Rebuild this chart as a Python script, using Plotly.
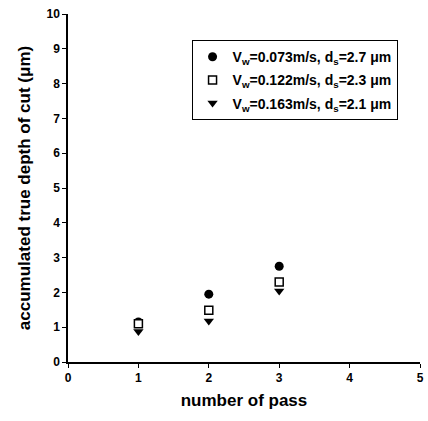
import plotly.graph_objects as go

passes = [1, 2, 3]
depth_a = [1.15, 1.95, 2.75]   # Vw=0.073 m/s
depth_b = [1.10, 1.49, 2.30]   # Vw=0.122 m/s
depth_c = [0.88, 1.18, 2.04]   # Vw=0.163 m/s
names = [
    "V<sub>w</sub>=0.073m/s, d<sub>s</sub>=2.7 μm",
    "V<sub>w</sub>=0.122m/s, d<sub>s</sub>=2.3 μm",
    "V<sub>w</sub>=0.163m/s, d<sub>s</sub>=2.1 μm",
]
x_ticks = [0, 1, 2, 3, 4, 5]
y_ticks = list(range(0, 11))

font_family = "Liberation Sans, Arial, sans-serif"

fig = go.Figure()
fig.add_trace(go.Scatter(x=passes, y=depth_a, mode="markers", name=names[0], legendgroup="a", legendrank=1,
                         marker=dict(symbol="circle", size=9, color="black")))
fig.add_trace(go.Scatter(x=passes, y=depth_c, mode="markers", name=names[2], legendgroup="c", legendrank=3,
                         marker=dict(symbol="triangle-down", size=9, color="black")))
fig.add_trace(go.Scatter(x=passes, y=depth_b, mode="markers", name=names[1], legendgroup="b", legendrank=2,
                         marker=dict(symbol="square", size=8, color="white", line=dict(width=1.5, color="black"))))

fig.update_layout(
    width=428, height=421,
    margin=dict(l=68, r=4, t=14, b=59),
    paper_bgcolor="white", plot_bgcolor="white",
    font=dict(family=font_family, color="black"),
    showlegend=True,
    legend=dict(
        x=0.351, y=0.925, xanchor="left", yanchor="top",
        bgcolor="white", bordercolor="black", borderwidth=1,
        font=dict(size=14, family=font_family, color="black", weight="bold"),
        traceorder="grouped", tracegroupgap=2,
        itemwidth=30,
    ),
    xaxis=dict(
        range=[0, 5], tickvals=x_ticks, ticktext=[str(v) for v in x_ticks],
        showgrid=False, zeroline=False, showline=True, linecolor="black", linewidth=1.5,
        ticks="outside", ticklen=4, tickcolor="black",
        tickfont=dict(size=12, family=font_family, weight="bold"),
        title=dict(text="<b>number of pass</b>", font=dict(size=17, family=font_family), standoff=10),
    ),
    yaxis=dict(
        range=[0, 10], tickvals=y_ticks, ticktext=[str(v) for v in y_ticks],
        showgrid=False, zeroline=False, showline=True, linecolor="black", linewidth=1.5,
        ticks="outside", ticklen=4, tickcolor="black",
        tickfont=dict(size=12, family=font_family, weight="bold"),
        title=dict(text="<b>accumulated true depth of cut (μm)</b>", font=dict(size=17, family=font_family), standoff=12),
    ),
)

fig.write_html("out.html")
